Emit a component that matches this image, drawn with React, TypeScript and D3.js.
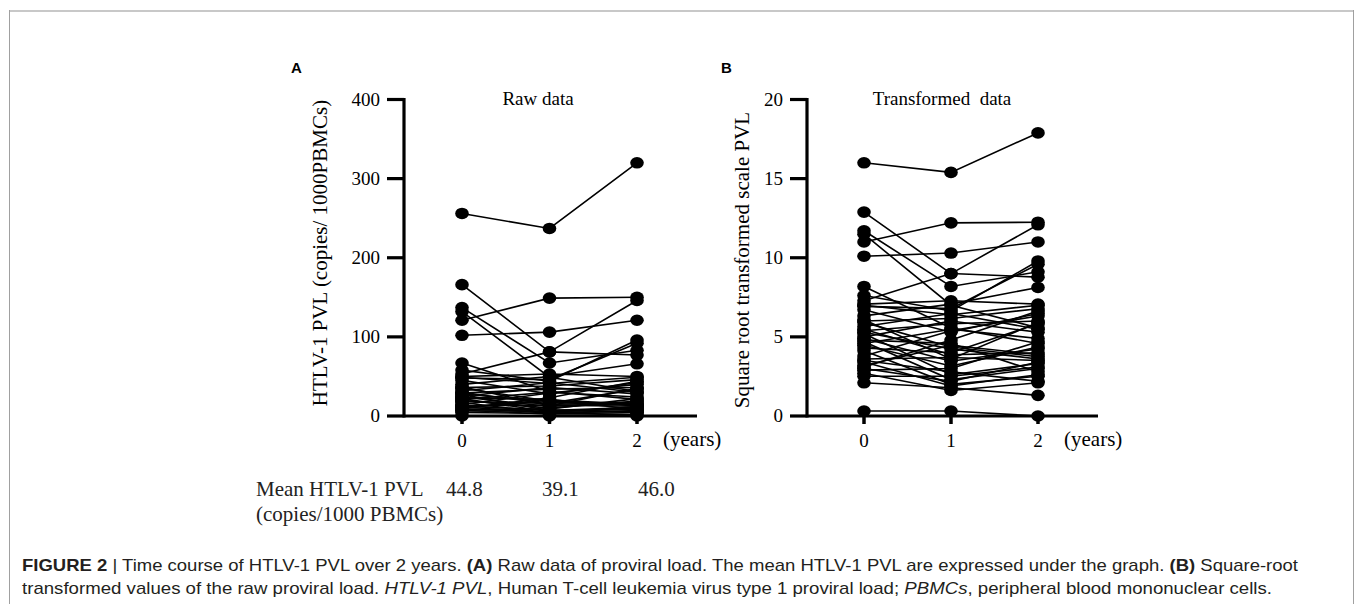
import React from 'react';
import * as d3 from 'd3';

// follow-up time points (years)
const years = [0, 1, 2];

// HTLV-1 PVL (copies/1000 PBMCs) for each patient at year 0, 1 and 2
const pvl0 = [256, 166, 121, 137, 132, 102, 67, 53, 58, 50, 48, 45, 40, 37, 36, 35, 32, 30, 29, 28, 27, 25, 24, 23, 22, 21, 20, 18.5, 17, 14.4, 13, 12.3, 11.6, 10.2, 9, 8.4, 7.3, 6.3, 4.4, 0.1, 49, 9.6];
const pvl1 = [237, 81, 149, 67, 49, 106, 31, 81, 44, 53, 46, 28, 50, 13, 38, 19, 42, 15, 34, 18, 6.8, 36, 12, 21, 5.3, 30, 10, 16, 4, 29, 13.7, 7.8, 3.6, 20, 4.8, 9, 2.6, 6.3, 3.2, 0.1, 41, 23];
const pvl2 = [320, 146, 150, 83, 31, 121, 21, 77, 96, 50, 92, 42, 66, 35, 46, 14, 30, 16, 36, 13, 11, 28, 18, 7.8, 9, 24, 19, 34, 6.3, 40, 12.3, 4.8, 6.8, 15, 11.6, 22, 4.4, 9.6, 1.7, 0, 49, 44];

const meanLabels = ['44.8', '39.1', '46.0'];
const rawTicks = [0, 100, 200, 300, 400];
const sqrtTicks = [0, 5, 10, 15, 20];

const serif = '"Liberation Serif", "Times New Roman", serif';
const sans = '"Liberation Sans", Arial, sans-serif';
const narrow = '"Liberation Sans Narrow", "Liberation Sans", Arial, sans-serif';

type PanelProps = {
  letter: string;
  letterX: number;
  title: string;
  titleX: number;
  axisX: number;
  xRange: [number, number];
  axisEnd: number;
  yMax: number;
  ticks: number[];
  yTitle: string;
  yTitleX: number;
  yTitleY: number;
  series: number[][];
};

function Panel(p: PanelProps) {
  const x = d3.scaleLinear().domain([0, 2]).range(p.xRange);
  const y = d3.scaleLinear().domain([0, p.yMax]).range([416, 99.5]);
  const line = d3.line<[number, number]>().x(d => x(d[0])).y(d => y(d[1]));
  const n = p.series[0].length;
  const patients = d3.range(n).map(i => years.map((t, k) => [t, p.series[k][i]] as [number, number]));

  return (
    <g>
      <text x={p.letterX} y={73} fontFamily={sans} fontWeight="bold" fontSize={15}>{p.letter}</text>
      <text x={p.titleX} y={105} fontFamily={serif} fontSize={19} textAnchor="middle" xmlSpace="preserve">{p.title}</text>
      <text transform={`translate(${p.yTitleX},${p.yTitleY}) rotate(-90)`} fontFamily={serif} fontSize={21} textAnchor="middle">{p.yTitle}</text>

      {/* spaghetti lines */}
      {patients.map((d, i) => (
        <path key={`l-${i}`} d={line(d) || ''} fill="none" stroke="#000" strokeWidth={1.6} />
      ))}
      {patients.map((d, i) => d.map((pt, k) => (
        <ellipse key={`p-${i}-${k}`} cx={x(pt[0])} cy={y(pt[1])} rx={6.8} ry={5.8} fill="#000" />
      )))}

      {/* y axis */}
      <line x1={p.axisX} x2={p.axisX} y1={y(p.yMax) - 1.5} y2={y(0) + 1.5} stroke="#000" strokeWidth={3.2} />
      {p.ticks.map(t => (
        <g key={`yt-${t}`}>
          <line x1={p.axisX - 17} x2={p.axisX} y1={y(t)} y2={y(t)} stroke="#000" strokeWidth={3.2} />
          <text x={p.axisX - 24} y={y(t) + 6} fontFamily={serif} fontSize={19} textAnchor="end">{t}</text>
        </g>
      ))}

      {/* x axis */}
      <line x1={p.axisX} x2={p.axisEnd} y1={y(0)} y2={y(0)} stroke="#000" strokeWidth={3.2} />
      {years.map(t => (
        <g key={`xt-${t}`}>
          <line x1={x(t)} x2={x(t)} y1={y(0)} y2={y(0) + 8} stroke="#000" strokeWidth={3.5} />
          <text x={x(t)} y={447} fontFamily={serif} fontSize={19} textAnchor="middle">{t}</text>
        </g>
      ))}
      <text x={p.axisEnd - 34} y={446} fontFamily={serif} fontSize={21}>(years)</text>
    </g>
  );
}

export default function App() {
  const sqrtSeries = [pvl0, pvl1, pvl2].map(s => s.map(v => Math.sqrt(v)));
  const meanX = d3.scaleLinear().domain([0, 2]).range([446, 638]);

  return (
    <svg width={1355} height={604} style={{ position: 'absolute', left: 0, top: 0 }}>
      <rect x={0} y={0} width={1355} height={604} fill="#fff" />
      {/* figure frame */}
      <line x1={9} x2={1354} y1={11} y2={11} stroke="#c8c8c8" strokeWidth={2} />
      <line x1={9.5} x2={9.5} y1={10} y2={604} stroke="#a0a0a0" strokeWidth={1} />
      <line x1={1353.5} x2={1353.5} y1={10} y2={604} stroke="#a0a0a0" strokeWidth={1} />

      <Panel letter="A" letterX={291} title="Raw data" titleX={538} axisX={404} xRange={[462, 637]} axisEnd={697}
        yMax={400} ticks={rawTicks} yTitle="HTLV-1 PVL (copies/ 1000PBMCs)" yTitleX={327} yTitleY={253}
        series={[pvl0, pvl1, pvl2]} />
      <Panel letter="B" letterX={721} title="Transformed  data" titleX={942} axisX={807} xRange={[864, 1038]} axisEnd={1098}
        yMax={20} ticks={sqrtTicks} yTitle="Square root transformed scale PVL" yTitleX={749} yTitleY={260}
        series={sqrtSeries} />

      {/* mean values under panel A */}
      <g fontFamily={serif} fontSize={21} fill="#222">
        <text x={256} y={496}>Mean HTLV-1 PVL</text>
        <text x={256} y={521}>(copies/1000 PBMCs)</text>
        {meanLabels.map((m, i) => (
          <text key={m} x={meanX(i)} y={496}>{m}</text>
        ))}
      </g>

      {/* caption */}
      <g fontFamily={narrow} fontSize={17} fill="#231f20">
        <text x={22} y={571} textLength={1276} lengthAdjust="spacingAndGlyphs">
          <tspan fontWeight="bold">FIGURE 2</tspan> | Time course of HTLV-1 PVL over 2 years. <tspan fontWeight="bold">(A)</tspan> Raw data of proviral load. The mean HTLV-1 PVL are expressed under the graph. <tspan fontWeight="bold">(B)</tspan> Square-root
        </text>
        <text x={22} y={594} textLength={1250} lengthAdjust="spacingAndGlyphs">
          transformed values of the raw proviral load. <tspan fontStyle="italic">HTLV-1 PVL</tspan>, Human T-cell leukemia virus type 1 proviral load; <tspan fontStyle="italic">PBMCs</tspan>, peripheral blood mononuclear cells.
        </text>
      </g>
    </svg>
  );
}
